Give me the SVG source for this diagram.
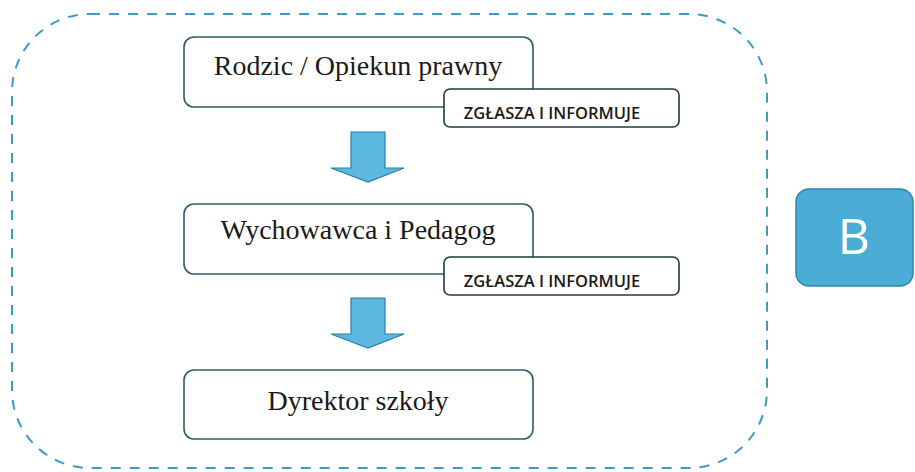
<svg xmlns="http://www.w3.org/2000/svg" width="915" height="472" viewBox="0 0 915 472">
<style>
.box{fill:#fff;stroke:#2d5d6a;stroke-width:1.6}
.lab{fill:#fff;stroke:#1f3a44;stroke-width:1.6}
.t{font-family:"Liberation Serif",serif;font-size:28px;fill:#1a1a1a;text-anchor:middle}
.s{font-family:"Open Sans","Liberation Sans",sans-serif;font-size:16.5px;font-weight:600;fill:#1a1a1a;text-anchor:middle}
.arr{fill:#5cb8e0;stroke:#2a7ea6;stroke-width:1.2}
</style>
<rect x="12" y="14" width="755" height="454" rx="78" fill="none" stroke="#3a9ec2" stroke-width="2" stroke-dasharray="10 9"/>
<g id="connectors">
<path class="arr" d="M351,132 H385 V168 H404 L368,182 L331,168 H351 Z"/>
<path class="arr" d="M351,298 H385 V334 H404 L368,348 L331,334 H351 Z"/>
</g>
<g id="n1">
<rect class="box" x="184" y="37" width="349" height="70" rx="10"/>
<text class="t" x="358" y="75">Rodzic / Opiekun prawny</text>
</g>
<g id="l1">
<rect class="lab" x="444" y="89" width="235" height="38" rx="6"/>
<text class="s" x="552" y="118.5">ZGŁASZA I INFORMUJE</text>
</g>
<g id="n2">
<rect class="box" x="184" y="204" width="349" height="70" rx="10"/>
<text class="t" x="358" y="239">Wychowawca i Pedagog</text>
</g>
<g id="l2">
<rect class="lab" x="444" y="257" width="235" height="38" rx="6"/>
<text class="s" x="552" y="286.5">ZGŁASZA I INFORMUJE</text>
</g>
<g id="n3">
<rect class="box" x="184" y="370" width="349" height="69" rx="10"/>
<text class="t" x="358" y="410">Dyrektor szkoły</text>
</g>
<g id="b">
<rect x="796" y="189" width="117" height="97" rx="13" fill="#4badd6" stroke="#2f86ab" stroke-width="1.5"/>
<text x="854" y="254" font-family="Open Sans,Liberation Sans,sans-serif" font-size="50" fill="#fff" text-anchor="middle">B</text>
</g>
</svg>
